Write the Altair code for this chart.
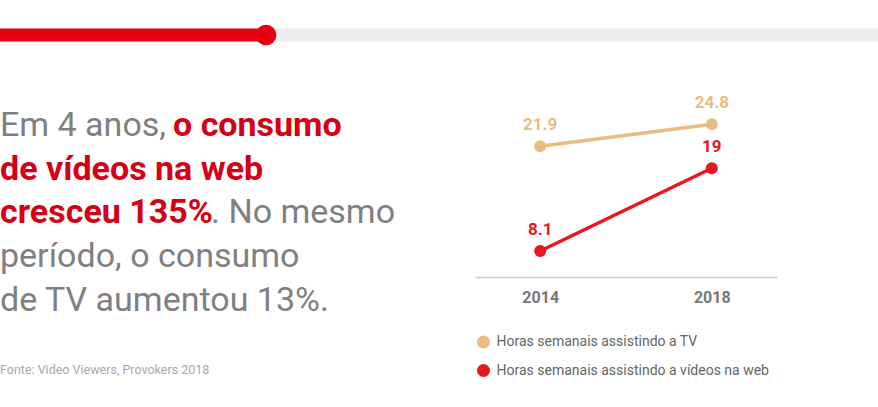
import altair as alt
import pandas as pd

years = ["2014", "2018"]
series = ["Horas semanais assistindo a TV", "Horas semanais assistindo a vídeos na web"]
tv_values = [21.9, 24.8]
web_values = [8.1, 19]
value_labels_tv = ["21.9", "24.8"]
value_labels_web = ["8.1", "19"]
series_colors = ["#E9BC82", "#E8161E"]

rows = []
for y, v, l in zip(years, tv_values, value_labels_tv):
    rows.append({"ano": y, "serie": series[0], "valor": v, "rotulo": l})
for y, v, l in zip(years, web_values, value_labels_web):
    rows.append({"ano": y, "serie": series[1], "valor": v, "rotulo": l})
df = pd.DataFrame(rows)

FONT = "Roboto"
GRAY = "#808080"
RED_TXT = "#D60014"

# plot area origin at (475, 100)
OX, OY = 475, 100

x_enc = alt.X("ano:O", scale=alt.Scale(type="point", padding=0.38),
              axis=alt.Axis(title=None, labelAngle=0, labelFont=FONT, labelFontSize=16,
                            labelFontWeight="bold", labelColor="#777777", labelPadding=12,
                            domainColor="#cccccc", domainWidth=1.5, ticks=False, grid=False))
y_enc = alt.Y("valor:Q", scale=alt.Scale(domain=[4.67, 28.0], nice=False, zero=False), axis=None)
color_enc = alt.Color("serie:N", scale=alt.Scale(domain=series, range=series_colors),
                      legend=alt.Legend(title=None, orient="none", legendX=1.5, legendY=235,
                                        symbolType="circle", symbolSize=170, symbolStrokeWidth=0,
                                        labelFont=FONT, labelFontSize=14, labelColor="#666666",
                                        labelOffset=6, rowPadding=14.5, labelLimit=400,
                                        symbolOpacity=1))

base = alt.Chart(df)
lines = base.mark_line(strokeWidth=3.5).encode(x=x_enc, y=y_enc, color=color_enc)
points = base.mark_circle(size=145, opacity=1).encode(x=x_enc, y=y_enc, color=color_enc)
labels = base.mark_text(dy=-21, font=FONT, fontSize=17, fontWeight="bold").encode(
    x=x_enc, y=y_enc, text="rotulo:N", color=alt.Color("serie:N", scale=alt.Scale(domain=series, range=series_colors), legend=None))

# progress bar at top
bar_bg = alt.Chart(pd.DataFrame({"k": [0]})).mark_rule(strokeWidth=13, color="#EEEEF0", strokeCap="butt").encode(
    x=alt.value(-OX), x2=alt.value(878 - OX), y=alt.value(35 - OY))
bar_fg = alt.Chart(pd.DataFrame({"k": [0]})).mark_rule(strokeWidth=13, color="#E5000F", strokeCap="butt").encode(
    x=alt.value(-OX), x2=alt.value(266 - OX), y=alt.value(35 - OY))
bar_dot = alt.Chart(pd.DataFrame({"k": [0]})).mark_circle(size=430, color="#E5000F", opacity=1).encode(
    x=alt.value(266 - OX), y=alt.value(35 - OY))

def txt(s, x, y, color, weight="normal", size=34):
    return alt.Chart(pd.DataFrame({"t": [s]})).mark_text(
        align="left", baseline="alphabetic", font=FONT, fontSize=size, fontWeight=weight, color=color
    ).encode(x=alt.value(x - OX), y=alt.value(y - OY), text="t:N")

para = [
    txt("Em 4 anos, ", 0, 136, GRAY),
    txt("o consumo", 173, 136, RED_TXT, "bold"),
    txt("de vídeos na web", 0, 180, RED_TXT, "bold"),
    txt("cresceu 135%", 0, 223, RED_TXT, "bold"),
    txt(". No mesmo", 211, 223, GRAY),
    txt("período, o consumo", 0, 267, GRAY),
    txt("de TV aumentou 13%.", 0, 311, GRAY),
    txt("Fonte: Video Viewers, Provokers 2018", 0, 374, "#A8A8A8", size=12.5),
]

chart = alt.layer(bar_bg, bar_fg, bar_dot, lines, points, labels, *para).properties(
    width=302, height=177,
    autosize=alt.AutoSizeParams(type="none"),
    padding={"left": OX, "top": OY, "right": 878 - OX - 302, "bottom": 407 - OY - 177},
    background="white",
).configure_view(stroke=None)

chart.save("out.html", embed_options={"renderer": "svg", "actions": False})
